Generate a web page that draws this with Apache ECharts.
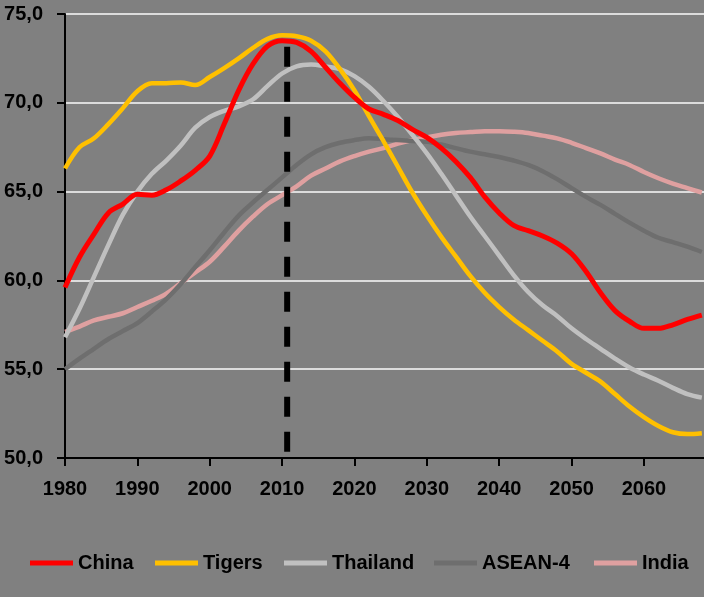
<!DOCTYPE html>
<html>
<head>
<meta charset="utf-8">
<script src="https://cdn.jsdelivr.net/npm/echarts@6/dist/echarts.min.js"></script>
<style>
html,body{margin:0;padding:0;background:#808080;}
#chart{width:704px;height:597px;}
</style>
</head>
<body>
<div id="chart"></div>
<script>
const years = [1980,1982,1984,1986,1988,1990,1992,1994,1996,1998,2000,2002,2004,2006,2008,2010,2012,2014,2016,2018,2020,2022,2024,2026,2028,2030,2032,2034,2036,2038,2040,2042,2044,2046,2048,2050,2052,2054,2056,2058,2060,2062,2064,2066,2068];
const china = [59.6,61.3,62.6,63.8,64.3,64.85,64.8,65.1,65.6,66.2,67.0,68.8,70.7,72.2,73.2,73.5,73.4,72.9,72.0,71.1,70.3,69.65,69.35,69.0,68.5,68.05,67.45,66.7,65.8,64.7,63.8,63.1,62.8,62.5,62.1,61.5,60.5,59.3,58.3,57.7,57.3,57.3,57.5,57.8,58.05];
const tigers = [66.3,67.5,68.0,68.8,69.7,70.65,71.1,71.1,71.15,71.0,71.45,71.95,72.5,73.1,73.6,73.8,73.75,73.5,72.9,71.9,70.7,69.25,67.85,66.4,64.95,63.65,62.45,61.35,60.25,59.3,58.5,57.8,57.2,56.6,56.0,55.3,54.8,54.3,53.6,52.9,52.3,51.8,51.45,51.35,51.4];
const thailand = [56.8,58.4,60.2,62.0,63.7,65.0,66.0,66.75,67.6,68.6,69.2,69.55,69.8,70.2,70.95,71.65,72.05,72.15,72.05,71.9,71.5,70.9,70.1,69.2,68.2,67.15,66.0,64.8,63.6,62.5,61.4,60.3,59.35,58.6,58.0,57.3,56.7,56.15,55.6,55.1,54.7,54.35,53.95,53.6,53.4];
const asean4 = [55.0,55.6,56.15,56.7,57.15,57.6,58.25,58.95,59.8,60.75,61.7,62.7,63.65,64.4,65.1,65.8,66.5,67.1,67.5,67.75,67.9,68.0,67.95,67.9,67.85,67.8,67.65,67.45,67.25,67.1,66.95,66.75,66.5,66.15,65.7,65.2,64.7,64.25,63.75,63.25,62.8,62.4,62.15,61.9,61.6];
const india = [57.1,57.4,57.75,57.95,58.15,58.5,58.85,59.25,59.85,60.45,61.05,61.9,62.8,63.6,64.3,64.8,65.3,65.9,66.3,66.7,67.0,67.25,67.45,67.7,67.9,68.05,68.2,68.3,68.35,68.4,68.4,68.37,68.3,68.15,68.0,67.75,67.45,67.15,66.8,66.5,66.1,65.75,65.45,65.2,64.95];
const seriesNames = ['China','Tigers','Thailand','ASEAN-4','India'];
const seriesValues = [china, tigers, thailand, asean4, india];
const seriesColors = ['#ff0000','#ffc000','#c0c0c0','#6e6e6e','#dfa0a0'];
const seriesWidths = [5,4.5,4.5,4.5,4.5];
const xTicks = [1980,1990,2000,2010,2020,2030,2040,2050,2060];
const yTicks = [50,55,60,65,70,75];
const markerYear = 2010.7;
const markerRange = [50.35, 73.15];
const legendLefts = [25,150,279,429,589];

const FONT = "'Liberation Sans',Arial,sans-serif";
const FS = 20;
const chart = echarts.init(document.getElementById('chart'));

const series = seriesNames.map((n,i)=>({
  name:n, type:'line', smooth:0.35, symbol:'none',
  data: years.map((y,j)=>[y, seriesValues[i][j]]),
  lineStyle:{color:seriesColors[i], width:seriesWidths[i]},
  itemStyle:{color:seriesColors[i]},
  z: 10 - i
}));
series.unshift({
  name:'marker', type:'line', symbol:'none', silent:true,
  data:[[markerYear, markerRange[0]],[markerYear, markerRange[1]]],
  lineStyle:{color:'#000', width:6, type:[20,15]}, z:20
});

const legends = seriesNames.map((n,i)=>({
  data:[n], left:legendLefts[i], top:548, icon:'rect', itemWidth:43, itemHeight:5,
  selectedMode:false,
  textStyle:{fontFamily:FONT, fontWeight:'bold', fontSize:FS, color:'#000'}
}));

chart.setOption({
  backgroundColor:'#808080',
  animation:false,
  grid:{left:65, right:0, top:14, bottom:139},
  legend: legends,
  xAxis:{
    type:'value', min:1980, max:2068.3, interval:10,
    axisLine:{show:true, lineStyle:{color:'#000', width:2}},
    axisTick:{show:true, length:8, lineStyle:{color:'#000', width:2}},
    splitLine:{show:false},
    axisLabel:{showMaxLabel:false, margin:21, fontFamily:FONT, fontWeight:'bold', fontSize:FS, color:'#000',
      formatter:v=> xTicks.indexOf(v)>=0 ? String(v) : ''}
  },
  yAxis:{
    type:'value', min:yTicks[0], max:yTicks[yTicks.length-1], interval:5,
    axisLine:{show:true, lineStyle:{color:'#000', width:2}},
    axisTick:{show:true, length:8, lineStyle:{color:'#000', width:2}},
    splitLine:{show:true, lineStyle:{color:'#dcdcdc', width:2}},
    axisLabel:{margin:22, fontFamily:FONT, fontWeight:'bold', fontSize:FS, color:'#000',
      formatter:v=> v.toFixed(1).replace('.',',')}
  },
  series: series
});
</script>
</body>
</html>
